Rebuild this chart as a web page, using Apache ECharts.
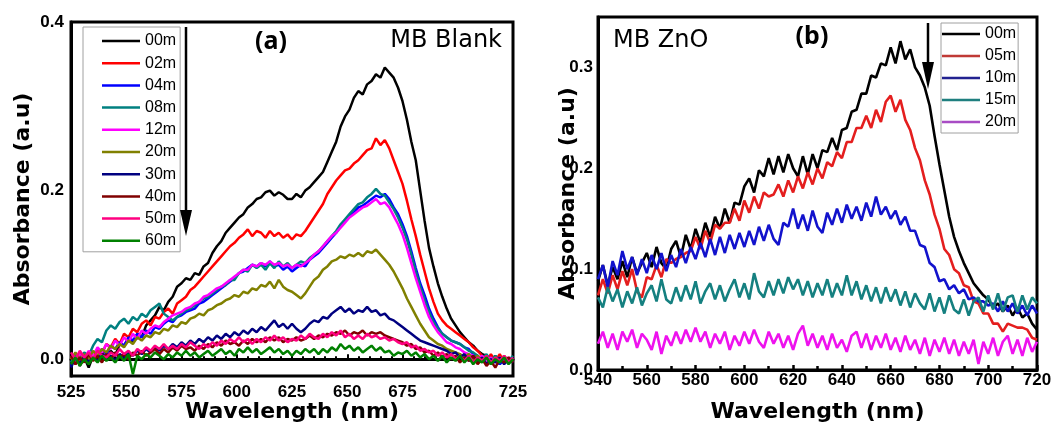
<!DOCTYPE html>
<html>
<head>
<meta charset="utf-8">
<script src="https://cdn.jsdelivr.net/npm/echarts@6/dist/echarts.min.js"></script>
<style>html,body{margin:0;padding:0;background:#fff}#c{width:1051px;height:425px}</style>
</head>
<body>
<div id="c"></div>
<script>
// ---------- wavelength grids (nm) ----------
const wlA = []; for (let x = 525; x <= 725; x += 2) wlA.push(x);
const wlB = []; for (let x = 540; x <= 720; x += 2) wlB.push(x);

// ---------- tick labels ----------
const xTicksA = [525, 550, 575, 600, 625, 650, 675, 700, 725];
const yTicksA = [0.0, 0.2, 0.4];
const xTicksB = [540, 560, 580, 600, 620, 640, 660, 680, 700, 720];
const yTicksB = [0.0, 0.1, 0.2, 0.3];

// ---------- panel (a): MB Blank ----------
const namesA = ['00m','02m','04m','08m','12m','20m','30m','40m','50m','60m'];
const a00 = [-0.004,0.006,-0.008,0.002,-0.010,0.004,-0.002,0.008,0.000,0.010,
  0.004,0.018,0.016,0.024,0.020,0.030,0.026,0.040,0.046,0.052,
  0.062,0.058,0.068,0.074,0.086,0.090,0.096,0.094,0.102,0.100,
  0.110,0.114,0.126,0.134,0.140,0.150,0.156,0.162,0.168,0.172,
  0.180,0.184,0.190,0.192,0.198,0.200,0.194,0.198,0.195,0.190,
  0.190,0.196,0.192,0.200,0.204,0.210,0.216,0.222,0.234,0.246,
  0.258,0.276,0.288,0.296,0.310,0.318,0.314,0.326,0.330,0.338,
  0.334,0.346,0.340,0.334,0.322,0.306,0.284,0.258,0.236,0.200,
  0.164,0.132,0.110,0.090,0.074,0.060,0.048,0.040,0.032,0.026,
  0.020,0.016,0.010,0.006,0.004,-0.002,0.004,-0.006,0.002,-0.004,
  0.000];
const a02 = [0.002,-0.006,0.006,-0.002,0.008,0.000,0.012,0.006,0.018,0.014,
  0.024,0.018,0.030,0.026,0.036,0.032,0.042,0.046,0.040,0.050,
  0.048,0.056,0.060,0.054,0.066,0.070,0.074,0.082,0.086,0.092,
  0.098,0.104,0.110,0.116,0.122,0.128,0.134,0.138,0.144,0.148,
  0.154,0.146,0.152,0.150,0.144,0.152,0.146,0.150,0.144,0.148,
  0.142,0.148,0.146,0.152,0.160,0.168,0.176,0.184,0.196,0.204,
  0.212,0.218,0.224,0.226,0.232,0.236,0.242,0.248,0.250,0.262,
  0.254,0.260,0.250,0.236,0.222,0.208,0.188,0.166,0.146,0.124,
  0.104,0.084,0.068,0.054,0.046,0.040,0.036,0.032,0.028,0.024,
  0.020,0.014,0.010,0.004,-0.002,0.006,-0.002,0.006,-0.004,0.002,
  -0.002];
const a04 = [-0.008,0.004,-0.004,0.006,-0.002,0.008,0.002,0.012,0.006,0.016,
  0.012,0.020,0.016,0.026,0.022,0.030,0.026,0.034,0.030,0.038,
  0.036,0.042,0.046,0.044,0.050,0.052,0.056,0.058,0.060,0.066,
  0.068,0.072,0.076,0.080,0.084,0.088,0.092,0.096,0.102,0.104,
  0.108,0.112,0.110,0.114,0.110,0.116,0.110,0.112,0.106,0.110,
  0.104,0.108,0.112,0.110,0.118,0.122,0.126,0.132,0.138,0.144,
  0.150,0.158,0.164,0.170,0.174,0.180,0.182,0.186,0.190,0.194,
  0.192,0.196,0.190,0.180,0.172,0.160,0.146,0.128,0.108,0.090,
  0.076,0.060,0.048,0.038,0.030,0.026,0.022,0.020,0.018,0.014,
  0.012,0.006,0.004,-0.002,0.004,-0.004,0.002,-0.006,0.000,-0.004,
  0.002];
const a08 = [-0.004,0.006,0.000,0.008,0.004,0.016,0.024,0.020,0.034,0.040,
  0.036,0.044,0.048,0.042,0.050,0.046,0.054,0.050,0.058,0.062,
  0.066,0.054,0.050,0.046,0.050,0.054,0.058,0.060,0.064,0.068,
  0.072,0.074,0.078,0.082,0.086,0.088,0.094,0.094,0.102,0.106,
  0.104,0.112,0.108,0.112,0.106,0.114,0.108,0.116,0.110,0.114,
  0.108,0.112,0.116,0.114,0.120,0.124,0.128,0.134,0.140,0.146,
  0.152,0.160,0.166,0.172,0.178,0.184,0.186,0.192,0.196,0.202,
  0.196,0.194,0.186,0.178,0.168,0.156,0.142,0.124,0.104,0.086,
  0.070,0.056,0.044,0.036,0.030,0.026,0.022,0.020,0.018,0.014,
  0.010,0.008,0.004,0.000,0.006,-0.002,0.004,-0.004,0.002,-0.002,
  0.004];
const a12 = [0.004,-0.004,0.008,0.000,0.010,0.004,0.014,0.008,0.018,0.012,
  0.022,0.016,0.026,0.020,0.030,0.024,0.034,0.030,0.036,0.040,
  0.038,0.044,0.048,0.052,0.054,0.056,0.060,0.062,0.066,0.068,
  0.074,0.076,0.080,0.084,0.086,0.090,0.094,0.098,0.102,0.106,
  0.106,0.112,0.110,0.114,0.112,0.116,0.112,0.114,0.110,0.112,
  0.108,0.112,0.110,0.114,0.118,0.124,0.128,0.134,0.140,0.146,
  0.150,0.156,0.162,0.168,0.172,0.176,0.180,0.182,0.186,0.190,
  0.184,0.186,0.180,0.170,0.160,0.148,0.132,0.114,0.096,0.080,
  0.064,0.050,0.040,0.032,0.026,0.020,0.018,0.014,0.012,0.008,
  0.006,0.004,0.000,0.004,-0.002,0.002,-0.004,0.002,-0.002,0.002,
  -0.004];
const a20 = [0.000,0.008,-0.002,0.006,0.000,0.010,0.004,0.012,0.008,0.016,
  0.012,0.018,0.014,0.022,0.018,0.026,0.022,0.028,0.026,0.032,
  0.030,0.036,0.034,0.040,0.038,0.044,0.042,0.048,0.050,0.054,
  0.052,0.058,0.060,0.064,0.066,0.070,0.072,0.076,0.074,0.080,
  0.078,0.084,0.082,0.088,0.086,0.092,0.084,0.094,0.086,0.082,
  0.080,0.076,0.072,0.078,0.086,0.094,0.098,0.106,0.110,0.116,
  0.118,0.122,0.120,0.124,0.122,0.126,0.122,0.128,0.126,0.130,
  0.124,0.118,0.112,0.104,0.094,0.084,0.072,0.062,0.052,0.042,
  0.034,0.026,0.022,0.018,0.016,0.012,0.010,0.008,0.006,0.002,
  0.006,0.000,0.004,-0.002,0.002,-0.004,0.002,-0.002,0.004,-0.002,
  0.000];
const a30 = [-0.010,0.002,-0.006,0.004,-0.004,0.002,-0.002,0.006,0.000,0.004,
  -0.002,0.006,0.002,0.008,0.004,0.010,0.006,0.012,0.008,0.014,
  0.010,0.016,0.012,0.018,0.014,0.020,0.016,0.022,0.018,0.024,
  0.020,0.026,0.022,0.028,0.024,0.030,0.026,0.032,0.028,0.034,
  0.030,0.036,0.032,0.038,0.034,0.040,0.046,0.038,0.042,0.036,
  0.042,0.036,0.032,0.036,0.042,0.046,0.044,0.050,0.048,0.054,
  0.058,0.062,0.056,0.060,0.054,0.058,0.056,0.062,0.056,0.058,
  0.052,0.054,0.048,0.046,0.042,0.038,0.034,0.030,0.026,0.022,
  0.020,0.018,0.016,0.014,0.012,0.010,0.006,0.008,0.002,0.006,
  -0.002,0.004,-0.004,0.002,-0.006,0.000,-0.004,0.002,-0.006,0.000,
  -0.004];
const a40 = [0.004,-0.006,0.002,-0.004,0.006,-0.002,0.004,-0.004,0.006,0.000,
  0.008,0.002,0.006,0.000,0.008,0.004,0.010,0.004,0.008,0.012,
  0.006,0.012,0.008,0.014,0.010,0.016,0.012,0.014,0.010,0.016,
  0.012,0.018,0.014,0.020,0.016,0.022,0.018,0.020,0.016,0.022,
  0.018,0.024,0.020,0.024,0.020,0.026,0.022,0.026,0.020,0.024,
  0.022,0.026,0.022,0.024,0.028,0.024,0.028,0.026,0.030,0.028,
  0.032,0.030,0.034,0.028,0.032,0.030,0.034,0.028,0.032,0.030,
  0.032,0.028,0.026,0.024,0.022,0.020,0.016,0.018,0.012,0.014,
  0.008,0.010,0.004,0.008,0.002,0.006,0.000,0.004,-0.004,0.002,
  -0.002,0.004,-0.006,0.000,-0.008,-0.002,-0.010,0.000,-0.004,0.002,
  -0.004];
const a50 = [0.008,0.000,0.010,0.002,0.008,0.000,0.010,0.004,0.002,0.008,
  0.004,0.012,0.006,0.010,0.004,0.012,0.008,0.014,0.010,0.016,
  0.012,0.018,0.012,0.016,0.012,0.018,0.014,0.020,0.016,0.012,
  0.018,0.014,0.020,0.016,0.022,0.018,0.024,0.020,0.026,0.020,
  0.024,0.018,0.024,0.020,0.026,0.022,0.028,0.022,0.026,0.020,
  0.024,0.022,0.028,0.024,0.030,0.026,0.024,0.030,0.026,0.032,
  0.028,0.034,0.026,0.030,0.024,0.028,0.024,0.030,0.026,0.028,
  0.024,0.026,0.022,0.024,0.020,0.018,0.020,0.014,0.016,0.010,
  0.012,0.008,0.010,0.004,0.008,0.002,0.006,0.000,0.004,-0.002,
  0.004,-0.004,0.002,-0.002,0.004,-0.004,0.002,-0.002,0.004,-0.004,
  0.002];
const a60 = [-0.006,0.002,-0.008,0.000,-0.006,0.002,-0.004,0.004,-0.002,0.002,
  -0.004,0.004,-0.002,0.006,-0.018,0.004,0.000,0.006,0.002,0.008,
  0.004,0.000,0.006,0.002,0.008,0.004,0.010,0.004,0.008,0.002,
  0.006,0.010,0.004,0.008,0.012,0.006,0.010,0.004,0.012,0.008,
  0.014,0.008,0.012,0.006,0.010,0.014,0.008,0.012,0.006,0.010,
  0.004,0.010,0.006,0.012,0.008,0.012,0.006,0.012,0.008,0.014,
  0.010,0.018,0.012,0.016,0.010,0.014,0.008,0.012,0.016,0.010,
  0.014,0.008,0.010,0.004,0.008,0.006,0.010,0.004,0.008,0.002,
  0.006,0.000,0.004,-0.002,0.004,-0.004,0.002,-0.002,0.004,-0.004,
  0.002,-0.006,0.000,-0.004,0.002,-0.006,0.000,-0.004,0.002,-0.006,
  0.000];
const valuesA = [a00,a02,a04,a08,a12,a20,a30,a40,a50,a60];
const colorsA = ['#000000','#ff0000','#0000ff','#008080','#ff00ff','#808000','#000080','#800000','#ff0080','#008000'];

// ---------- panel (b): MB ZnO ----------
const namesB = ['00m','05m','10m','15m','20m'];
const b00 = [0.088,0.104,0.084,0.102,0.090,0.108,0.092,0.112,0.096,0.106,
  0.116,0.102,0.122,0.106,0.100,0.120,0.128,0.112,0.134,0.120,
  0.140,0.126,0.146,0.132,0.152,0.140,0.160,0.146,0.166,0.164,
  0.182,0.190,0.176,0.198,0.192,0.210,0.194,0.212,0.196,0.214,
  0.200,0.192,0.212,0.194,0.214,0.200,0.218,0.216,0.230,0.218,
  0.238,0.240,0.256,0.258,0.274,0.274,0.292,0.290,0.304,0.302,
  0.320,0.304,0.326,0.308,0.318,0.300,0.292,0.280,0.262,0.232,
  0.204,0.178,0.152,0.132,0.118,0.106,0.096,0.086,0.080,0.074,
  0.070,0.062,0.066,0.058,0.064,0.054,0.062,0.052,0.056,0.046,
  0.040];
const b05 = [0.074,0.090,0.076,0.094,0.080,0.098,0.084,0.100,0.078,0.072,
  0.092,0.090,0.104,0.092,0.110,0.106,0.110,0.112,0.116,0.118,
  0.132,0.120,0.138,0.126,0.144,0.140,0.146,0.146,0.160,0.148,
  0.168,0.156,0.172,0.160,0.176,0.172,0.174,0.184,0.172,0.188,
  0.176,0.192,0.180,0.196,0.184,0.200,0.190,0.206,0.202,0.216,
  0.210,0.226,0.226,0.240,0.240,0.252,0.240,0.258,0.246,0.266,
  0.272,0.256,0.268,0.248,0.238,0.220,0.208,0.188,0.174,0.154,
  0.140,0.120,0.114,0.100,0.096,0.084,0.082,0.068,0.066,0.056,
  0.056,0.046,0.046,0.038,0.046,0.044,0.042,0.042,0.040,0.032,
  0.030];
const b10 = [0.090,0.104,0.082,0.108,0.094,0.118,0.100,0.112,0.094,0.110,
  0.096,0.114,0.100,0.116,0.098,0.114,0.102,0.120,0.106,0.122,
  0.110,0.126,0.112,0.130,0.114,0.132,0.116,0.134,0.120,0.136,
  0.122,0.138,0.124,0.142,0.128,0.144,0.130,0.124,0.146,0.142,
  0.160,0.140,0.154,0.138,0.158,0.142,0.136,0.156,0.144,0.160,
  0.146,0.164,0.150,0.162,0.148,0.166,0.152,0.172,0.154,0.162,
  0.150,0.158,0.144,0.152,0.138,0.138,0.124,0.122,0.106,0.102,
  0.088,0.090,0.080,0.084,0.076,0.080,0.070,0.072,0.068,0.068,
  0.064,0.066,0.058,0.068,0.058,0.066,0.056,0.064,0.054,0.064,
  0.056];
const b15 = [0.072,0.062,0.082,0.068,0.080,0.062,0.078,0.066,0.082,0.064,
  0.076,0.084,0.068,0.090,0.070,0.066,0.082,0.068,0.084,0.070,
  0.088,0.066,0.078,0.086,0.070,0.084,0.068,0.080,0.090,0.072,
  0.086,0.070,0.096,0.078,0.072,0.088,0.074,0.090,0.076,0.092,
  0.080,0.090,0.074,0.088,0.072,0.086,0.074,0.090,0.072,0.086,
  0.074,0.094,0.074,0.088,0.070,0.084,0.068,0.082,0.066,0.082,
  0.068,0.080,0.064,0.078,0.062,0.076,0.066,0.060,0.076,0.058,
  0.072,0.056,0.074,0.060,0.056,0.070,0.054,0.068,0.072,0.058,
  0.074,0.060,0.076,0.058,0.072,0.074,0.058,0.074,0.060,0.072,
  0.066];
const b20 = [0.026,0.038,0.022,0.036,0.020,0.038,0.028,0.040,0.022,0.036,
  0.030,0.020,0.038,0.016,0.034,0.024,0.038,0.026,0.040,0.028,
  0.042,0.028,0.038,0.022,0.036,0.026,0.038,0.020,0.034,0.024,
  0.038,0.026,0.040,0.028,0.022,0.038,0.026,0.036,0.022,0.034,
  0.020,0.036,0.044,0.024,0.036,0.022,0.034,0.020,0.036,0.022,
  0.030,0.018,0.034,0.038,0.022,0.036,0.020,0.034,0.022,0.036,
  0.020,0.032,0.018,0.034,0.020,0.030,0.016,0.032,0.014,0.030,
  0.018,0.032,0.016,0.030,0.014,0.028,0.016,0.030,0.006,0.028,
  0.016,0.032,0.014,0.028,0.034,0.016,0.030,0.014,0.032,0.018,
  0.028];
const valuesB = [b00,b05,b10,b15,b20];
const colorsB = ['#000000','#e41e1e','#1212cc','#158080','#ee12ee'];
const legendColorsB = ['#000000','#c03a36','#222290','#1f7f7f','#a84cc4'];

// ---------- build ----------
const chart = echarts.init(document.getElementById('c'), null, {renderer: 'canvas'});
const tickFont = {fontFamily: 'Liberation Sans', fontWeight: 'bold', fontSize: 17, color: '#000'};
const titleFont = {fontFamily: 'DejaVu Sans', fontWeight: 'bold', fontSize: 22, color: '#000'};

const series = [];
valuesA.forEach((vals, k) => {
  series.push({
    name: namesA[k], type: 'line', xAxisIndex: 0, yAxisIndex: 0,
    data: wlA.map((x, i) => [x, vals[i]]),
    symbol: 'none', lineStyle: {width: 2.5, color: colorsA[k]}, itemStyle: {color: colorsA[k]},
    animation: false, silent: true
  });
});
valuesB.forEach((vals, k) => {
  series.push({
    name: 'b:' + namesB[k], type: 'line', xAxisIndex: 1, yAxisIndex: 1,
    data: wlB.map((x, i) => [x, vals[i]]),
    symbol: 'none', lineStyle: {width: 2.6, color: colorsB[k]}, itemStyle: {color: colorsB[k]},
    animation: false, silent: true
  });
});

const labelSet = (arr) => (v) => {
  const hit = arr.find(t => Math.abs(t - v) < 1e-6);
  return hit === undefined ? '' : hit.toFixed(1);
};

const option = {
  backgroundColor: '#fff',
  animation: false,
  grid: [
    {left: 71, right: 538, top: 22, bottom: 49, show: true, borderColor: '#000', borderWidth: 3,
     containLabel: false, outerBoundsMode: 'none'},
    {left: 598, right: 14, top: 17, bottom: 55, show: true, borderColor: '#000', borderWidth: 3,
     containLabel: false, outerBoundsMode: 'none'}
  ],
  xAxis: [
    {type: 'value', gridIndex: 0, min: 525, max: 725, interval: 25,
     axisLine: {show: true, lineStyle: {color: '#000', width: 3}},
     axisTick: {show: true, inside: true, length: 5, lineStyle: {color: '#000', width: 2}},
     minorTick: {show: true, splitNumber: 5, length: 3, lineStyle: {color: '#000', width: 2}},
     splitLine: {show: false},
     axisLabel: Object.assign({margin: 8, formatter: v => xTicksA.includes(v) ? String(v) : ''}, tickFont),
     name: 'Wavelength (nm)', nameLocation: 'middle', nameGap: 25, nameMoveOverlap: false, nameTextStyle: titleFont},
    {type: 'value', gridIndex: 1, min: 540, max: 720, interval: 20,
     axisLine: {show: true, lineStyle: {color: '#000', width: 3}},
     axisTick: {show: true, inside: true, length: 5, lineStyle: {color: '#000', width: 2.5}},
     minorTick: {show: true, splitNumber: 2, length: 4, lineStyle: {color: '#000', width: 2.5}},
     splitLine: {show: false},
     axisLabel: Object.assign({margin: 2, formatter: v => xTicksB.includes(v) ? String(v) : ''}, tickFont),
     name: 'Wavelength (nm)', nameLocation: 'middle', nameGap: 31, nameMoveOverlap: false, nameTextStyle: titleFont}
  ],
  yAxis: [
    {type: 'value', gridIndex: 0, min: -0.02, max: 0.4, interval: 0.02,
     axisLine: {show: true, lineStyle: {color: '#000', width: 3}},
     axisTick: {show: false}, splitLine: {show: false},
     axisLabel: Object.assign({margin: 7, formatter: labelSet(yTicksA)}, tickFont),
     name: 'Absorbance (a.u)', nameLocation: 'middle', nameGap: 37, nameMoveOverlap: false, nameTextStyle: titleFont},
    {type: 'value', gridIndex: 1, min: 0, max: 0.35, interval: 0.1,
     axisLine: {show: true, lineStyle: {color: '#000', width: 3}},
     axisTick: {show: false}, splitLine: {show: false},
     axisLabel: Object.assign({margin: 5, formatter: labelSet(yTicksB)}, tickFont),
     name: 'Absorbance (a.u)', nameLocation: 'middle', nameGap: 19, nameMoveOverlap: false, nameTextStyle: titleFont}
  ],
  legend: [
    {orient: 'vertical', left: 83, top: 27, data: namesA, icon: 'rect',
     itemWidth: 38, itemHeight: 2.5, itemGap: 6.2, padding: [6, 4, 3, 19],
     borderColor: '#a0a0a0', borderWidth: 1, backgroundColor: '#fff',
     selectedMode: false,
     textStyle: {fontFamily: 'Liberation Sans', fontSize: 16, color: '#000', lineHeight: 14}},
    {orient: 'vertical', left: 941, top: 23, icon: 'rect',
     data: namesB.map((n, k) => ({name: 'b:' + n, itemStyle: {color: legendColorsB[k]}})),
     formatter: n => n.replace('b:', ''),
     itemWidth: 38, itemHeight: 2.5, itemGap: 6, padding: [3, 2, 3, 1],
     borderColor: '#a0a0a0', borderWidth: 1, backgroundColor: '#fff',
     selectedMode: false,
     textStyle: {fontFamily: 'Liberation Sans', fontSize: 16, color: '#000', lineHeight: 14}}
  ],
  graphic: [
    {type: 'line', shape: {x1: 186, y1: 27, x2: 186, y2: 214}, style: {stroke: '#000', lineWidth: 2.5}, z: 100},
    {type: 'polygon', shape: {points: [[180, 210], [192, 210], [186, 236]]}, style: {fill: '#000'}, z: 100},
    {type: 'line', shape: {x1: 928, y1: 23, x2: 928, y2: 66}, style: {stroke: '#000', lineWidth: 2.5}, z: 100},
    {type: 'polygon', shape: {points: [[922, 62], [934, 62], [928, 89]]}, style: {fill: '#000'}, z: 100},
    {type: 'text', x: 271, y: 42, style: {text: '(a)', fontFamily: 'Noto Sans', fontWeight: 'bold', fontSize: 25, fill: '#000', textAlign: 'center', textVerticalAlign: 'middle'}, z: 100},
    {type: 'text', x: 502, y: 41, style: {text: 'MB Blank', fontFamily: 'DejaVu Sans', fontSize: 24, fill: '#000', textAlign: 'right', textVerticalAlign: 'middle'}, z: 100},
    {type: 'text', x: 812, y: 37, style: {text: '(b)', fontFamily: 'Noto Sans', fontWeight: 'bold', fontSize: 25, fill: '#000', textAlign: 'center', textVerticalAlign: 'middle'}, z: 100},
    {type: 'text', x: 613, y: 41, style: {text: 'MB ZnO', fontFamily: 'DejaVu Sans', fontSize: 24, fill: '#000', textAlign: 'left', textVerticalAlign: 'middle'}, z: 100}
  ],
  series: series
};
chart.setOption(option);
</script>
</body>
</html>
